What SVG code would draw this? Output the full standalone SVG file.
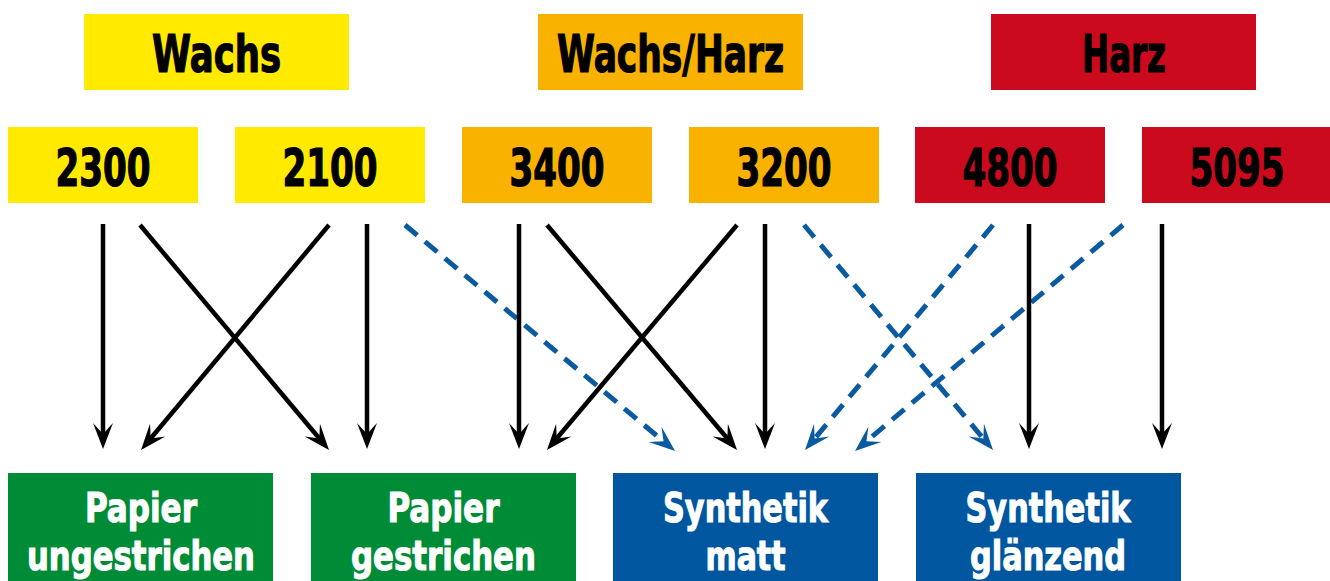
<svg xmlns="http://www.w3.org/2000/svg" width="1330" height="581" viewBox="0 0 1330 581">
<style>
.t{font-family:"Liberation Sans Narrow","DejaVu Sans Condensed","Liberation Sans",Arial,sans-serif;font-weight:bold;text-anchor:middle}
.dk{fill:#000;stroke:#000;stroke-width:1.2}
.wt{fill:#fff;stroke:#fff;stroke-width:1}
.big{font-size:52px}
.num{font-size:51px}
.sm{font-size:41px}
.yel{fill:#ffea00}
.ora{fill:#f9b200}
.red{fill:#cc0a1e}
.grn{fill:#008c37}
.blu{fill:#0057a0}
.sol{stroke:#000;stroke-width:4.5;fill:none;marker-end:url(#ah)}
.dsh{stroke:#0a5aa0;stroke-width:5;fill:none;stroke-dasharray:16 10;marker-end:url(#ahb)}
</style>
<defs>
<marker id="ah" markerUnits="userSpaceOnUse" viewBox="-13 -11 28 22" refX="0" refY="0" markerWidth="28" markerHeight="22" orient="auto" overflow="visible">
<path d="M14,0 L-12,-10 L-1,0 L-12,10 Z" fill="#000"/>
</marker>
<marker id="ahb" markerUnits="userSpaceOnUse" viewBox="-13 -11 28 22" refX="0" refY="0" markerWidth="28" markerHeight="22" orient="auto" overflow="visible">
<path d="M14,0 L-12,-10 L-1,0 L-12,10 Z" fill="#0a5aa0"/>
</marker>
</defs>
<rect width="1330" height="581" fill="#fff"/>
<g id="wachs"><rect class="yel" x="84" y="14" width="265" height="76"/><text class="t dk big" x="216.5" y="72" textLength="129" lengthAdjust="spacingAndGlyphs">Wachs</text></g>
<g id="wachs-harz"><rect class="ora" x="538" y="14" width="265" height="76"/><text class="t dk big" x="670.5" y="72" textLength="227" lengthAdjust="spacingAndGlyphs">Wachs/Harz</text></g>
<g id="harz"><rect class="red" x="991" y="14" width="265" height="76"/><text class="t dk big" x="1124" y="72" textLength="84" lengthAdjust="spacingAndGlyphs">Harz</text></g>
<g id="n2300"><rect class="yel" x="8" y="127" width="190" height="76"/><text class="t dk num" x="103" y="186" textLength="95" lengthAdjust="spacingAndGlyphs">2300</text></g>
<g id="n2100"><rect class="yel" x="235" y="127" width="190" height="76"/><text class="t dk num" x="330" y="186" textLength="95" lengthAdjust="spacingAndGlyphs">2100</text></g>
<g id="n3400"><rect class="ora" x="462" y="127" width="190" height="76"/><text class="t dk num" x="557" y="186" textLength="95" lengthAdjust="spacingAndGlyphs">3400</text></g>
<g id="n3200"><rect class="ora" x="689" y="127" width="190" height="76"/><text class="t dk num" x="784" y="186" textLength="95" lengthAdjust="spacingAndGlyphs">3200</text></g>
<g id="n4800"><rect class="red" x="915" y="127" width="190" height="76"/><text class="t dk num" x="1010" y="186" textLength="95" lengthAdjust="spacingAndGlyphs">4800</text></g>
<g id="n5095"><rect class="red" x="1142" y="127" width="190" height="76"/><text class="t dk num" x="1237" y="186" textLength="95" lengthAdjust="spacingAndGlyphs">5095</text></g>
<g id="papier-ungestrichen"><rect class="grn" x="8" y="473" width="265" height="110"/><text class="t wt sm" x="141" y="522" textLength="112" lengthAdjust="spacingAndGlyphs">Papier</text><text class="t wt sm" x="141" y="570" textLength="228" lengthAdjust="spacingAndGlyphs">ungestrichen</text></g>
<g id="papier-gestrichen"><rect class="grn" x="311" y="473" width="265" height="110"/><text class="t wt sm" x="443.5" y="522" textLength="112" lengthAdjust="spacingAndGlyphs">Papier</text><text class="t wt sm" x="443.5" y="570" textLength="185" lengthAdjust="spacingAndGlyphs">gestrichen</text></g>
<g id="synthetik-matt"><rect class="blu" x="613" y="473" width="265" height="110"/><text class="t wt sm" x="745.5" y="522" textLength="165" lengthAdjust="spacingAndGlyphs">Synthetik</text><text class="t wt sm" x="745.5" y="570" textLength="80" lengthAdjust="spacingAndGlyphs">matt</text></g>
<g id="synthetik-glaenzend"><rect class="blu" x="916" y="473" width="265" height="110"/><text class="t wt sm" x="1048" y="522" textLength="165" lengthAdjust="spacingAndGlyphs">Synthetik</text><text class="t wt sm" x="1048" y="570" textLength="156" lengthAdjust="spacingAndGlyphs">glänzend</text></g>
<g id="connectors">
<line class="sol" x1="103" y1="224" x2="103" y2="435"/>
<line class="sol" x1="140" y1="225" x2="320" y2="439.3"/>
<line class="sol" x1="329" y1="225" x2="150" y2="439.3"/>
<line class="sol" x1="367" y1="224" x2="367" y2="435"/>
<line class="dsh" x1="405" y1="225" x2="664.3" y2="442"/>
<line class="sol" x1="519" y1="224" x2="519" y2="435"/>
<line class="sol" x1="547" y1="225" x2="728" y2="439.3"/>
<line class="sol" x1="737" y1="225" x2="556" y2="439.3"/>
<line class="sol" x1="765" y1="224" x2="765" y2="435"/>
<line class="dsh" x1="804" y1="225" x2="984" y2="439.3"/>
<line class="dsh" x1="993" y1="225" x2="814" y2="439.3"/>
<line class="dsh" x1="1123" y1="225" x2="865.7" y2="442"/>
<line class="sol" x1="1029" y1="224" x2="1029" y2="435"/>
<line class="sol" x1="1162" y1="224" x2="1162" y2="435"/>
</g>
</svg>
